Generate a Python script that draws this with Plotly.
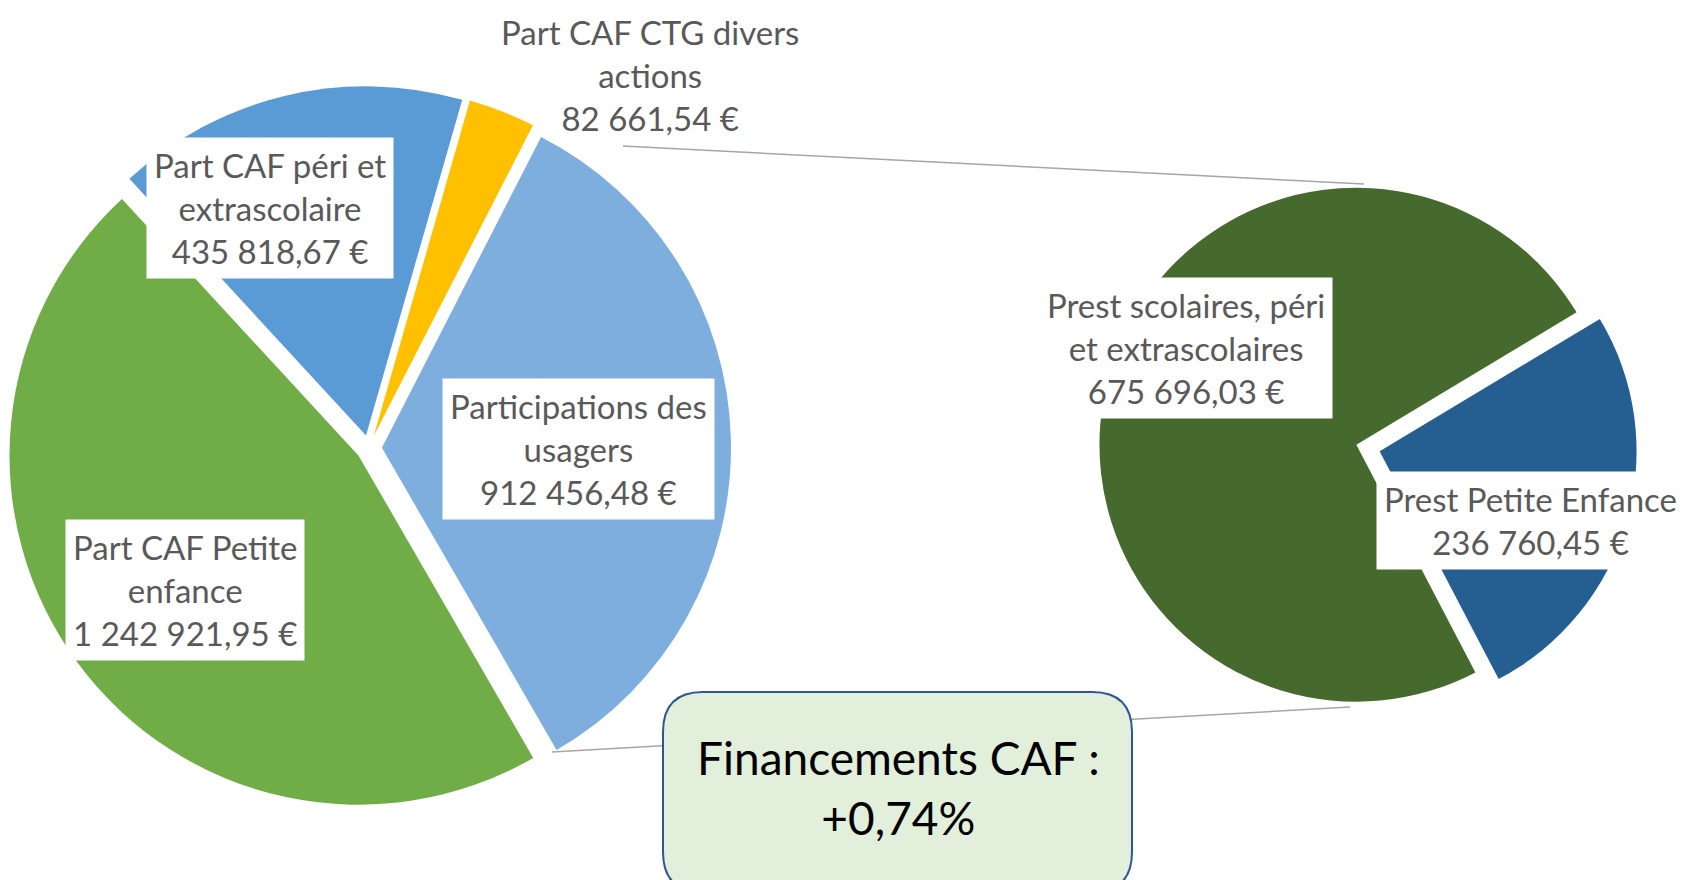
import plotly.graph_objects as go

W, H = 1690, 880

# ---------------- data ----------------
main_labels = ["Part CAF CTG divers actions", "Participations des usagers",
               "Part CAF Petite enfance", "Part CAF péri et extrascolaire"]
main_values = [82661.54, 912456.48, 1242921.95, 435818.67]
main_colors = ["#FFC000", "#7DAEDD", "#70AD47", "#5B9BD5"]
main_label_lines = [["Part CAF CTG divers", "actions"],
                    ["Participations des", "usagers"],
                    ["Part CAF Petite", "enfance"],
                    ["Part CAF péri et", "extrascolaire"]]

sub_labels = ["Prest scolaires, péri et extrascolaires", "Prest Petite Enfance"]
sub_values = [675696.03, 236760.45]
sub_colors = ["#466A2D", "#255E91"]
sub_label_lines = [["Prest scolaires, péri", "et extrascolaires"],
                   ["Prest Petite Enfance"]]

callout_lines = ["Financements CAF :", "+0,74%"]


def eur(v):
    s = f"{v:,.2f}"
    return s.replace(",", " ").replace(".", ",") + " €"


def px(x):
    return x / W


def py(y):
    return 1 - y / H


def domain(cx, cy, half):
    return dict(x=[px(cx - half), px(cx + half)], y=[py(cy + half), py(cy - half)])


fig = go.Figure()

# main pie
fig.add_trace(go.Pie(
    labels=main_labels, values=main_values, sort=False,
    direction="clockwise", rotation=16,
    marker=dict(colors=main_colors, line=dict(width=0)),
    pull=[0.037] * len(main_values),
    textinfo="none", showlegend=False,
    hovertemplate="%{label}<br>%{value:,.2f} €<extra></extra>",
    domain=domain(369, 448, 362),
))

# secondary pie
fig.add_trace(go.Pie(
    labels=sub_labels, values=sub_values, sort=False,
    direction="clockwise", rotation=152.4,
    marker=dict(colors=sub_colors, line=dict(width=0)),
    pull=[0.047] * len(sub_values),
    textinfo="none", showlegend=False,
    hovertemplate="%{label}<br>%{value:,.2f} €<extra></extra>",
    domain=domain(1368, 448, 269),
))

# connector lines
shapes = [
    dict(type="line", xref="paper", yref="paper",
         x0=px(623), y0=py(146), x1=px(1364), y1=py(184),
         line=dict(color="#A6A6A6", width=1.5)),
    dict(type="line", xref="paper", yref="paper",
         x0=px(552), y0=py(752), x1=px(1350), y1=py(707),
         line=dict(color="#A6A6A6", width=1.5)),
]

# rounded callout box
x0, x1, y0, y1, r = 663, 1132, 692, 892, 40
pts = [("M", [(x0 + r, y0)]), ("L", [(x1 - r, y0)]), ("Q", [(x1, y0), (x1, y0 + r)]),
       ("L", [(x1, y1 - r)]), ("Q", [(x1, y1), (x1 - r, y1)]), ("L", [(x0 + r, y1)]),
       ("Q", [(x0, y1), (x0, y1 - r)]), ("L", [(x0, y0 + r)]), ("Q", [(x0, y0), (x0 + r, y0)])]
path = " ".join(cmd + " " + " ".join(f"{px(a):.5f},{py(b):.5f}" for a, b in p) for cmd, p in pts) + " Z"
shapes.append(dict(type="path", xref="paper", yref="paper", path=path,
                   fillcolor="#E2EFDA", line=dict(color="#2F5597", width=2)))

# data labels
label_font = dict(family="Lato, 'Open Sans', sans-serif", size=33, color="#595959")
annotations = []
main_pos = [(650, 75, False), (578, 449, True), (185, 590, True), (270, 208, True)]
for lines, v, (x, y, box) in zip(main_label_lines, main_values, main_pos):
    annotations.append(dict(
        x=px(x), y=py(y), xref="paper", yref="paper", showarrow=False,
        text="<br>".join(lines + [eur(v)]), font=label_font, align="center",
        bgcolor="white" if box else None, borderpad=7,
        xanchor="center", yanchor="middle"))

sub_pos = [(1186, 348), (1530, 520)]
for lines, v, (x, y) in zip(sub_label_lines, sub_values, sub_pos):
    annotations.append(dict(
        x=px(x), y=py(y), xref="paper", yref="paper", showarrow=False,
        text="<br>".join(lines + [eur(v)]), font=label_font, align="center",
        bgcolor="white", borderpad=7, xanchor="center", yanchor="middle"))

annotations.append(dict(
    x=px(898), y=py(787), xref="paper", yref="paper", showarrow=False,
    text="<br>".join(callout_lines),
    font=dict(family="Lato, 'Open Sans', sans-serif", size=46, color="#000000"),
    align="center", xanchor="center", yanchor="middle"))

fig.update_layout(
    width=W, height=H, autosize=False,
    margin=dict(l=0, r=0, t=0, b=0),
    paper_bgcolor="white", plot_bgcolor="white",
    shapes=shapes, annotations=annotations, showlegend=False,
)

fig.write_html("out.html", config={"displayModeBar": False},
               post_script="document.body.style.margin='0';")
